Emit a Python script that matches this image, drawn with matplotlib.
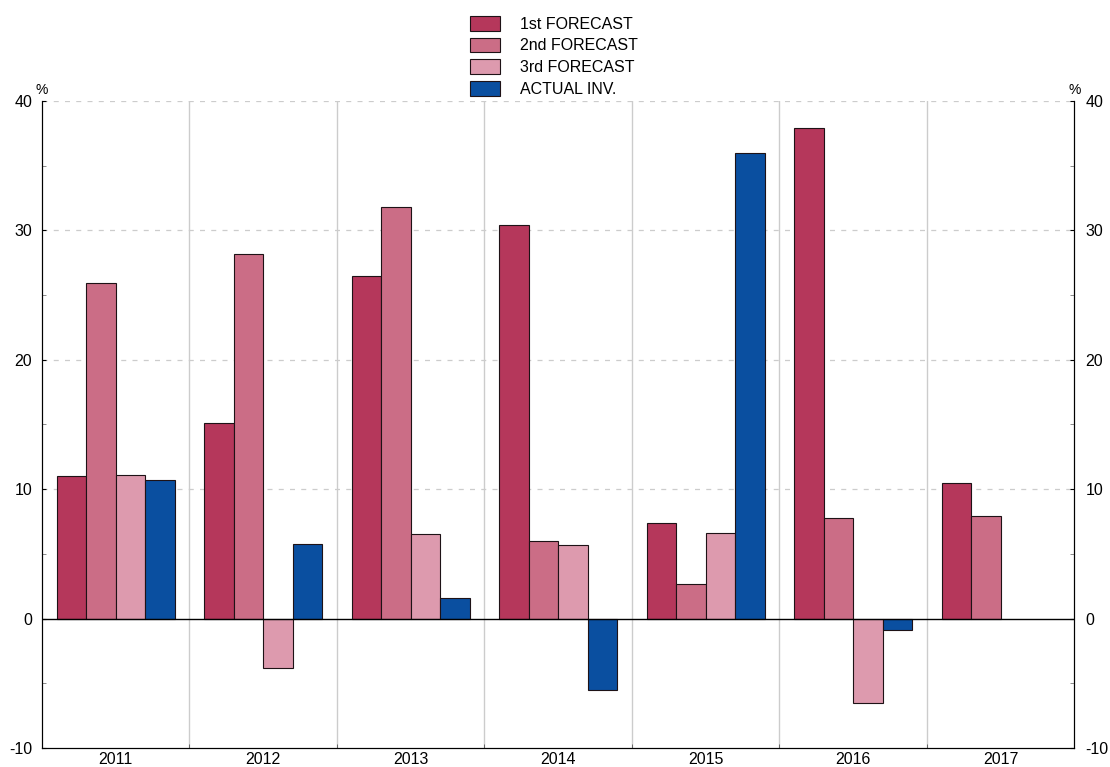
import matplotlib.pyplot as plt
import numpy as np
from matplotlib.ticker import MultipleLocator

years = ['2011', '2012', '2013', '2014', '2015', '2016', '2017']
first = [11.0, 15.1, 26.5, 30.4, 7.4, 37.9, 10.5]
second = [25.9, 28.2, 31.8, 6.0, 2.7, 7.8, 7.9]
third = [11.1, -3.8, 6.5, 5.7, 6.6, -6.5, np.nan]
actual = [10.7, 5.8, 1.6, -5.5, 36.0, -0.9, np.nan]

series = [('1st FORECAST', first, '#B5375B'),
          ('2nd FORECAST', second, '#CB6D86'),
          ('3rd FORECAST', third, '#DD9AAE'),
          ('ACTUAL INV.', actual, '#0A4FA0')]

plt.rcParams['font.family'] = ['Liberation Sans', 'DejaVu Sans']
plt.rcParams['axes.unicode_minus'] = False

fig = plt.figure(figsize=(11.1, 7.67), dpi=100)
ax = fig.add_axes([0.0378, 0.0248, 0.93, 0.8435])

x = np.arange(len(years))
w = 0.2
offsets = [-0.3, -0.1, 0.1, 0.3]
for (name, vals, col), off in zip(series, offsets):
    ax.bar(x + off, vals, w, color=col, edgecolor='#1e1216', linewidth=0.8,
           label=name, zorder=3)

ax.set_xlim(-0.5, len(years) - 0.5)
ax.set_ylim(-10, 40)

# group separators
for b in np.arange(0.5, len(years) - 0.5, 1):
    ax.axvline(b, color='#cccccc', linewidth=1, zorder=1)
ax.axhline(0, color='black', linewidth=1, zorder=4)

ax.yaxis.set_major_locator(MultipleLocator(10))
ax.yaxis.set_minor_locator(MultipleLocator(5))
for yv in [10, 20, 30, 40]:
    ax.axhline(yv, color='#cccccc', linewidth=0.9, linestyle=(0, (4, 5)), zorder=1)

ax.set_xticks(x)
ax.set_xticklabels(years, fontsize=11.5)
ax.set_xticks(np.arange(0.5, len(years) - 0.5, 1), minor=True)
ax.tick_params(axis='x', which='major', length=0, pad=3)
ax.tick_params(axis='x', which='minor', direction='in', length=3, color='#555555')
ax.tick_params(axis='y', which='both', direction='in', labelsize=11.5)
ax.tick_params(axis='y', which='major', length=3, pad=7)
ax.tick_params(axis='y', which='minor', length=3, color='#777777')
ax.spines['top'].set_visible(False)

ax2 = ax.twinx()
ax2.set_ylim(-10, 40)
ax2.yaxis.set_major_locator(MultipleLocator(10))
ax2.yaxis.set_minor_locator(MultipleLocator(5))
ax2.tick_params(axis='y', which='both', direction='in', labelsize=11.5)
ax2.tick_params(axis='y', which='major', length=3, pad=8)
ax2.tick_params(axis='y', which='minor', length=3, color='#777777')
ax2.spines['top'].set_visible(False)

ax.text(0.0, 1.006, '%', transform=ax.transAxes, ha='center', va='bottom', fontsize=10)
ax.text(1.0, 1.006, '%', transform=ax.transAxes, ha='center', va='bottom', fontsize=10)

fig.legend(loc='upper center', bbox_to_anchor=(0.499, 0.998), frameon=False,
           fontsize=11.5, handlelength=1.9, handleheight=1.05, labelspacing=0.36,
           handletextpad=1.25)

fig.savefig('out.png', dpi=100)
